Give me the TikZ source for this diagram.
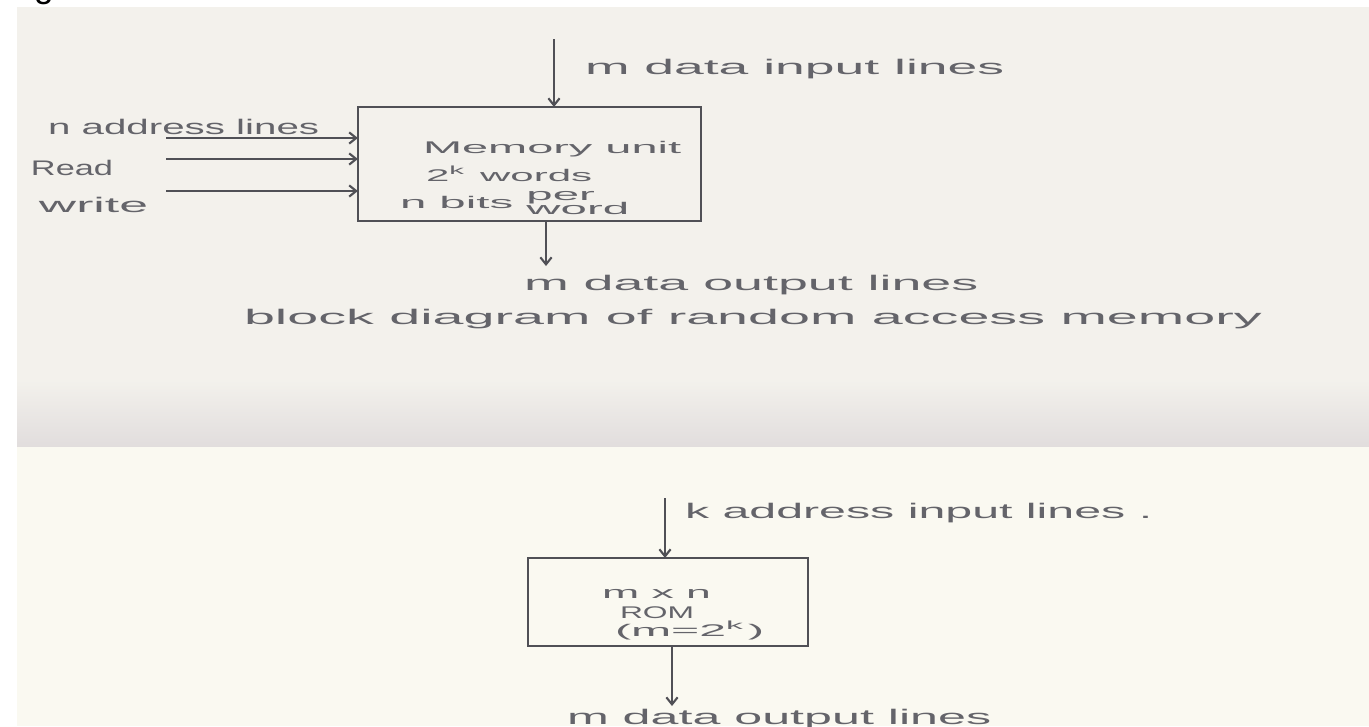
\documentclass[tikz,border=0pt]{standalone}
\usepackage{fontspec}
\setmainfont{Liberation Sans}
\usepackage{graphicx}
\usetikzlibrary{arrows.meta}
\definecolor{ink}{RGB}{80,80,86}
\definecolor{penc}{RGB}{100,100,106}
\definecolor{paper}{RGB}{243,241,236}
\definecolor{band}{RGB}{225,221,221}
\definecolor{cream}{RGB}{250,249,241}
\newcommand\hw[2]{\resizebox{#1}{\height}{#2}}
\begin{document}
\begin{tikzpicture}[x=0.01cm,y=-0.01cm,
  lbl/.style={anchor=mid west, inner sep=0pt, outer sep=0pt, text=penc, font=\fontsize{6}{7}\selectfont},
  boxtxt/.style={lbl, font=\fontsize{4.8}{5.5}\selectfont},
  blk/.style={draw=ink, line width=0.6pt, inner sep=0pt, outer sep=0pt},
  wire/.style={draw=ink, line width=0.6pt, -{Straight Barb[length=2pt,width=3.2pt]}}]
\useasboundingbox (0,0) rectangle (1369,726);
% paper
\fill[white] (0,0) rectangle (1369,726);
\fill[paper] (17,7) rectangle (1369,447);
\shade[top color=paper, bottom color=band] (17,380) rectangle (1369,447);
\fill[cream] (17,447) rectangle (1369,726);
% fragment of heading
\node[anchor=base, inner sep=0pt, font=\fontsize{10}{12}\selectfont] (frag) at (44,-3) {g};

% ---------- RAM ----------
\node[blk, minimum width=3.43cm, minimum height=1.14cm] (ram) at (529.5,164) {};
\node[boxtxt] (t1) at (423,144) {\hw{2.58cm}{Memory unit}};
\node[boxtxt] (t2) at (426,172) {\hw{1.66cm}{2\textsuperscript{k} words}};
\node[boxtxt] (t3) at (400,199) {\hw{2.29cm}{n bits \begin{tabular}[c]{@{}l@{}}per\\[-1.5pt]word\end{tabular}}};

\coordinate (din) at (554,39);
\draw[wire] (din) -- (din |- ram.north);
\node[lbl] (dinl) at (585,65) {\hw{4.19cm}{m data input lines}};

\coordinate (a1) at (166,138);
\coordinate (a2) at (166,159);
\coordinate (a3) at (166,191);
\draw[wire] (a1) -- (a1 -| ram.west);
\draw[wire] (a2) -- (a2 -| ram.west);
\draw[wire] (a3) -- (a3 -| ram.west);
\node[lbl] (l1) at (48,125) {\hw{2.71cm}{n address lines}};
\node[lbl] (l2) at (31,166) {\hw{0.82cm}{Read}};
\node[lbl] (l3) at (39,203) {\hw{1.09cm}{write}};

\coordinate (dout) at (546,266);
\draw[wire] (dout |- ram.south) -- (dout);
\node[lbl] (doutl) at (524,281) {\hw{4.54cm}{m data output lines}};
\node[lbl] (cap) at (244,315) {\hw{10.17cm}{block diagram of random access memory}};

% ---------- ROM ----------
\node[blk, minimum width=2.80cm, minimum height=0.88cm] (rom) at (668,602) {};
\node[boxtxt] (r1) at (602,589) {\hw{1.09cm}{m x n}};
\node[boxtxt] (r2) at (620,609) {\hw{0.74cm}{ROM}};
\node[boxtxt] (r3) at (615,627) {\hw{1.49cm}{(m=2\textsuperscript{k})}};

\coordinate (kin) at (665,498);
\draw[wire] (kin) -- (kin |- rom.north);
\node[lbl] (kinl) at (685,509) {\hw{4.67cm}{k address input lines .}};

\coordinate (rout) at (672,706);
\draw[wire] (rout |- rom.south) -- (rout);
\node[lbl] (routl) at (567,715) {\hw{4.24cm}{m data output lines}};
\end{tikzpicture}
\end{document}
